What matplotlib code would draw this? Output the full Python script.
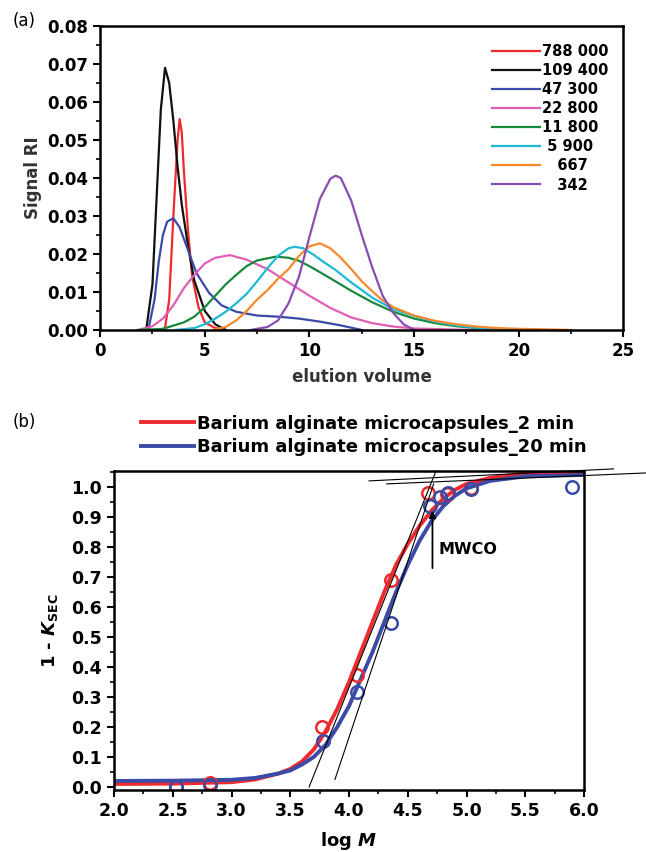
import matplotlib
matplotlib.use('Agg')
import matplotlib.pyplot as plt
from matplotlib.ticker import MultipleLocator

plt.rcParams['font.family'] = ['DejaVu Sans']
plt.rcParams['font.weight'] = 'bold'
plt.rcParams['mathtext.fontset'] = 'custom'
plt.rcParams['mathtext.rm'] = 'DejaVu Sans:bold'
plt.rcParams['mathtext.it'] = 'DejaVu Sans:bold:italic'

# ---- panel (a): SEC elution curves ----
labels_a = ['788 000', '109 400', '47 300', '22 800', '11 800', ' 5 900', '   667', '   342']
colors_a = ['#ee2a2e', '#111111', '#3a4aa6', '#e05fb4', '#17893c', '#1fb9d6', '#f7892c', '#8a4db2']

x_788k = [2.9, 3.1, 3.3, 3.5, 3.7, 3.8, 3.9, 4.0, 4.2, 4.4, 4.7, 5.0, 5.5, 6.0]
y_788k = [0, 0.0005, 0.008, 0.03, 0.05, 0.0555, 0.052, 0.042, 0.026, 0.014, 0.006, 0.002, 0.0005, 0]

x_109k = [2.2, 2.5, 2.7, 2.9, 3.1, 3.3, 3.5, 3.7, 3.9, 4.2, 4.5, 5.0, 5.5, 6.0]
y_109k = [0, 0.012, 0.035, 0.058, 0.069, 0.065, 0.055, 0.043, 0.033, 0.022, 0.013, 0.005, 0.0015, 0]

x_47k = [2.3, 2.6, 2.8, 3.0, 3.2, 3.5, 3.8, 4.2, 4.6, 5.2, 5.8, 6.5, 7.5, 8.5, 9.5, 10.5, 11.5, 12.5]
y_47k = [0, 0.008, 0.018, 0.025, 0.0285, 0.0294, 0.027, 0.021, 0.015, 0.0098, 0.0065, 0.0048,
         0.0038, 0.0035, 0.003, 0.0022, 0.0012, 0]

x_22k = [1.8, 2.5, 3.0, 3.5, 4.0, 4.5, 5.0, 5.5, 6.2, 7.0, 8.0, 9.0, 10.0, 11.0, 12.0, 13.0,
         14.0, 15.0, 17.0, 18.5]
y_22k = [0, 0.001, 0.003, 0.0065, 0.011, 0.0145, 0.0175, 0.019, 0.0197, 0.0185, 0.016, 0.0125,
         0.009, 0.0058, 0.0033, 0.0018, 0.0009, 0.0004, 0.0001, 0]

x_11k = [1.8, 3.0, 4.0, 4.5, 5.0, 5.5, 6.0, 6.5, 7.0, 7.5, 8.4, 9.0, 9.5, 10.0, 10.5, 11.0,
         12.0, 13.0, 14.0, 15.0, 16.0, 17.0, 18.0, 20.0]
y_11k = [0, 0.0003, 0.002, 0.0035, 0.006, 0.009, 0.012, 0.0145, 0.0168, 0.0183, 0.0193, 0.019,
         0.0182, 0.0168, 0.0152, 0.0136, 0.0103, 0.0073, 0.0048, 0.003, 0.0018, 0.001, 0.0005, 0]

x_5900 = [3.6, 4.5, 5.0, 5.5, 6.0, 6.5, 7.0, 7.5, 8.0, 8.5, 9.0, 9.3, 9.7, 10.2, 10.7, 11.2,
          12.0, 13.0, 14.0, 15.0, 16.0, 17.0, 18.0, 19.3]
y_5900 = [0, 0.0005, 0.0015, 0.003, 0.0048, 0.007, 0.0095, 0.0128, 0.0163, 0.0195, 0.0215,
          0.0219, 0.0215, 0.0198, 0.0178, 0.016, 0.0125, 0.0085, 0.0055, 0.0037, 0.0022,
          0.0012, 0.0006, 0]

x_667 = [5.4, 6.0, 6.5, 7.0, 7.5, 8.0, 8.5, 9.0, 9.5, 10.0, 10.5, 11.0, 11.5, 12.0, 12.5, 13.0,
         13.5, 14.0, 15.0, 16.0, 17.0, 18.0, 19.0, 20.0, 21.0, 22.5]
y_667 = [0, 0.0008, 0.0025, 0.005, 0.008, 0.0105, 0.0135, 0.016, 0.0195, 0.022, 0.0228, 0.0215,
         0.019, 0.016, 0.0128, 0.0102, 0.0078, 0.006, 0.0038, 0.0024, 0.0015, 0.0009, 0.0005,
         0.0003, 0.0002, 0]

x_342 = [7.2, 8.0, 8.5, 9.0, 9.5, 10.0, 10.5, 11.0, 11.25, 11.5, 12.0, 12.5, 13.0, 13.5, 14.0,
         14.5, 15.0]
y_342 = [0, 0.0008, 0.0025, 0.007, 0.014, 0.0245, 0.0345, 0.0398, 0.0406, 0.040, 0.034, 0.025,
         0.0165, 0.009, 0.0045, 0.0015, 0]

curves_x = [x_788k, x_109k, x_47k, x_22k, x_11k, x_5900, x_667, x_342]
curves_y = [y_788k, y_109k, y_47k, y_22k, y_11k, y_5900, y_667, y_342]

# ---- panel (b): MWCO curves ----
logM_2min = [2.53, 2.82, 3.77, 4.07, 4.36, 4.67, 4.83, 5.04]
k_2min = [0.0, 0.012, 0.20, 0.372, 0.69, 0.98, 0.975, 0.995]
logM_20min = [2.53, 2.82, 3.78, 4.07, 4.36, 4.69, 4.77, 4.84, 5.04, 5.9]
k_20min = [0.0, 0.006, 0.153, 0.315, 0.547, 0.937, 0.967, 0.98, 0.994, 1.0]

fit_x = [2.0, 2.5, 3.0, 3.2, 3.4, 3.5, 3.6, 3.7, 3.8, 3.9, 4.0, 4.1, 4.2, 4.3, 4.4, 4.5, 4.6,
         4.7, 4.8, 4.9, 5.0, 5.2, 5.5, 6.0]
fit_2min = [0.01, 0.011, 0.016, 0.025, 0.045, 0.06, 0.085, 0.125, 0.185, 0.26, 0.35, 0.45,
            0.55, 0.65, 0.74, 0.81, 0.87, 0.92, 0.96, 0.99, 1.01, 1.03, 1.045, 1.05]
fit_20min = [0.02, 0.021, 0.024, 0.03, 0.045, 0.055, 0.075, 0.10, 0.14, 0.20, 0.27, 0.36, 0.45,
             0.55, 0.65, 0.74, 0.82, 0.885, 0.935, 0.97, 0.995, 1.02, 1.035, 1.04]

tangent1_x, tangent1_y = [3.66, 4.74], [0.0, 1.053]
tangent2_x, tangent2_y = [3.88, 4.72], [0.025, 1.01]
plateau1_x, plateau1_y = [4.17, 6.25], [1.02, 1.06]
plateau2_x, plateau2_y = [4.32, 6.56], [1.01, 1.047]

fig = plt.figure(figsize=(6.46, 8.52), dpi=100)

# panel (a)
ax1 = fig.add_axes([0.155, 0.6127, 0.81, 0.3568])
for xs, ys, c, lab in zip(curves_x, curves_y, colors_a, labels_a):
    ax1.plot(xs, ys, color=c, lw=1.6, label=lab)
ax1.set_xlim(0, 25)
ax1.set_ylim(0, 0.08)
ax1.xaxis.set_major_locator(MultipleLocator(5))
ax1.xaxis.set_minor_locator(MultipleLocator(2.5))
ax1.yaxis.set_major_locator(MultipleLocator(0.01))
ax1.yaxis.set_minor_locator(MultipleLocator(0.005))
ax1.yaxis.set_major_formatter(plt.FormatStrFormatter('%.2f'))
ax1.tick_params(which='major', direction='out', length=5, width=1.5, labelsize=12)
ax1.tick_params(which='minor', direction='out', length=3, width=1.2)
ax1.set_xlabel('elution volume', fontsize=12, fontweight='bold', color='#333333', labelpad=6)
ax1.set_ylabel('Signal RI', fontsize=12, fontweight='bold', color='#333333', labelpad=4)
for sp in ax1.spines.values():
    sp.set_linewidth(1.8)
ax1.legend(loc='upper left', bbox_to_anchor=(0.735, 0.965), frameon=False,
           handlelength=3.3, handletextpad=0.1, labelspacing=0.28, borderpad=0,
           prop={'weight': 'bold', 'size': 10.5})
fig.text(0.02, 0.975, '(a)', fontsize=12, fontweight='normal', va='center')

# panel (b)
ax2 = fig.add_axes([0.1765, 0.0728, 0.7276, 0.3744])
l1, = ax2.plot(fit_x, fit_2min, color='#ee2a2e', lw=2.8, label='Barium alginate microcapsules_2 min')
l2, = ax2.plot(fit_x, fit_20min, color='#3a4aa6', lw=2.8, label='Barium alginate microcapsules_20 min')
ax2.plot(logM_2min, k_2min, 'o', mfc='none', mec='#ee2a2e', ms=9, mew=1.8)
ax2.plot(logM_20min, k_20min, 'o', mfc='none', mec='#3a4aa6', ms=9, mew=1.8)
for tx, ty in [(tangent1_x, tangent1_y), (tangent2_x, tangent2_y),
               (plateau1_x, plateau1_y), (plateau2_x, plateau2_y)]:
    ax2.plot(tx, ty, color='black', lw=0.8, clip_on=False)
ax2.annotate('', xy=(4.71, 0.93), xytext=(4.71, 0.72),
             arrowprops=dict(arrowstyle='-|>', color='black', lw=1.3, mutation_scale=10))
ax2.text(4.76, 0.79, 'MWCO', fontsize=11.5, fontweight='bold', va='center', ha='left')
ax2.set_xlim(2.0, 6.0)
ax2.set_ylim(-0.01, 1.053)
ax2.xaxis.set_major_locator(MultipleLocator(0.5))
ax2.xaxis.set_minor_locator(MultipleLocator(0.25))
ax2.yaxis.set_major_locator(MultipleLocator(0.1))
ax2.yaxis.set_minor_locator(MultipleLocator(0.05))
ax2.xaxis.set_major_formatter(plt.FormatStrFormatter('%.1f'))
ax2.yaxis.set_major_formatter(plt.FormatStrFormatter('%.1f'))
ax2.tick_params(which='major', direction='out', length=5, width=1.5, labelsize=12.5)
ax2.tick_params(which='minor', direction='out', length=3, width=1.2)
ax2.set_xlabel('log $M$', fontsize=13, fontweight='bold', labelpad=7)
ax2.set_ylabel('1 - $K_{\\mathrm{SEC}}$', fontsize=13, fontweight='bold', labelpad=8)
for sp in ax2.spines.values():
    sp.set_linewidth(1.8)
fig.legend(handles=[l1, l2], loc='upper left', bbox_to_anchor=(0.205, 0.524),
           frameon=False, handlelength=2.9, handletextpad=0.2, labelspacing=0.3, borderpad=0,
           prop={'weight': 'bold', 'size': 13})
fig.text(0.02, 0.505, '(b)', fontsize=12, fontweight='normal', va='center')

fig.savefig('out.png', dpi=100)
